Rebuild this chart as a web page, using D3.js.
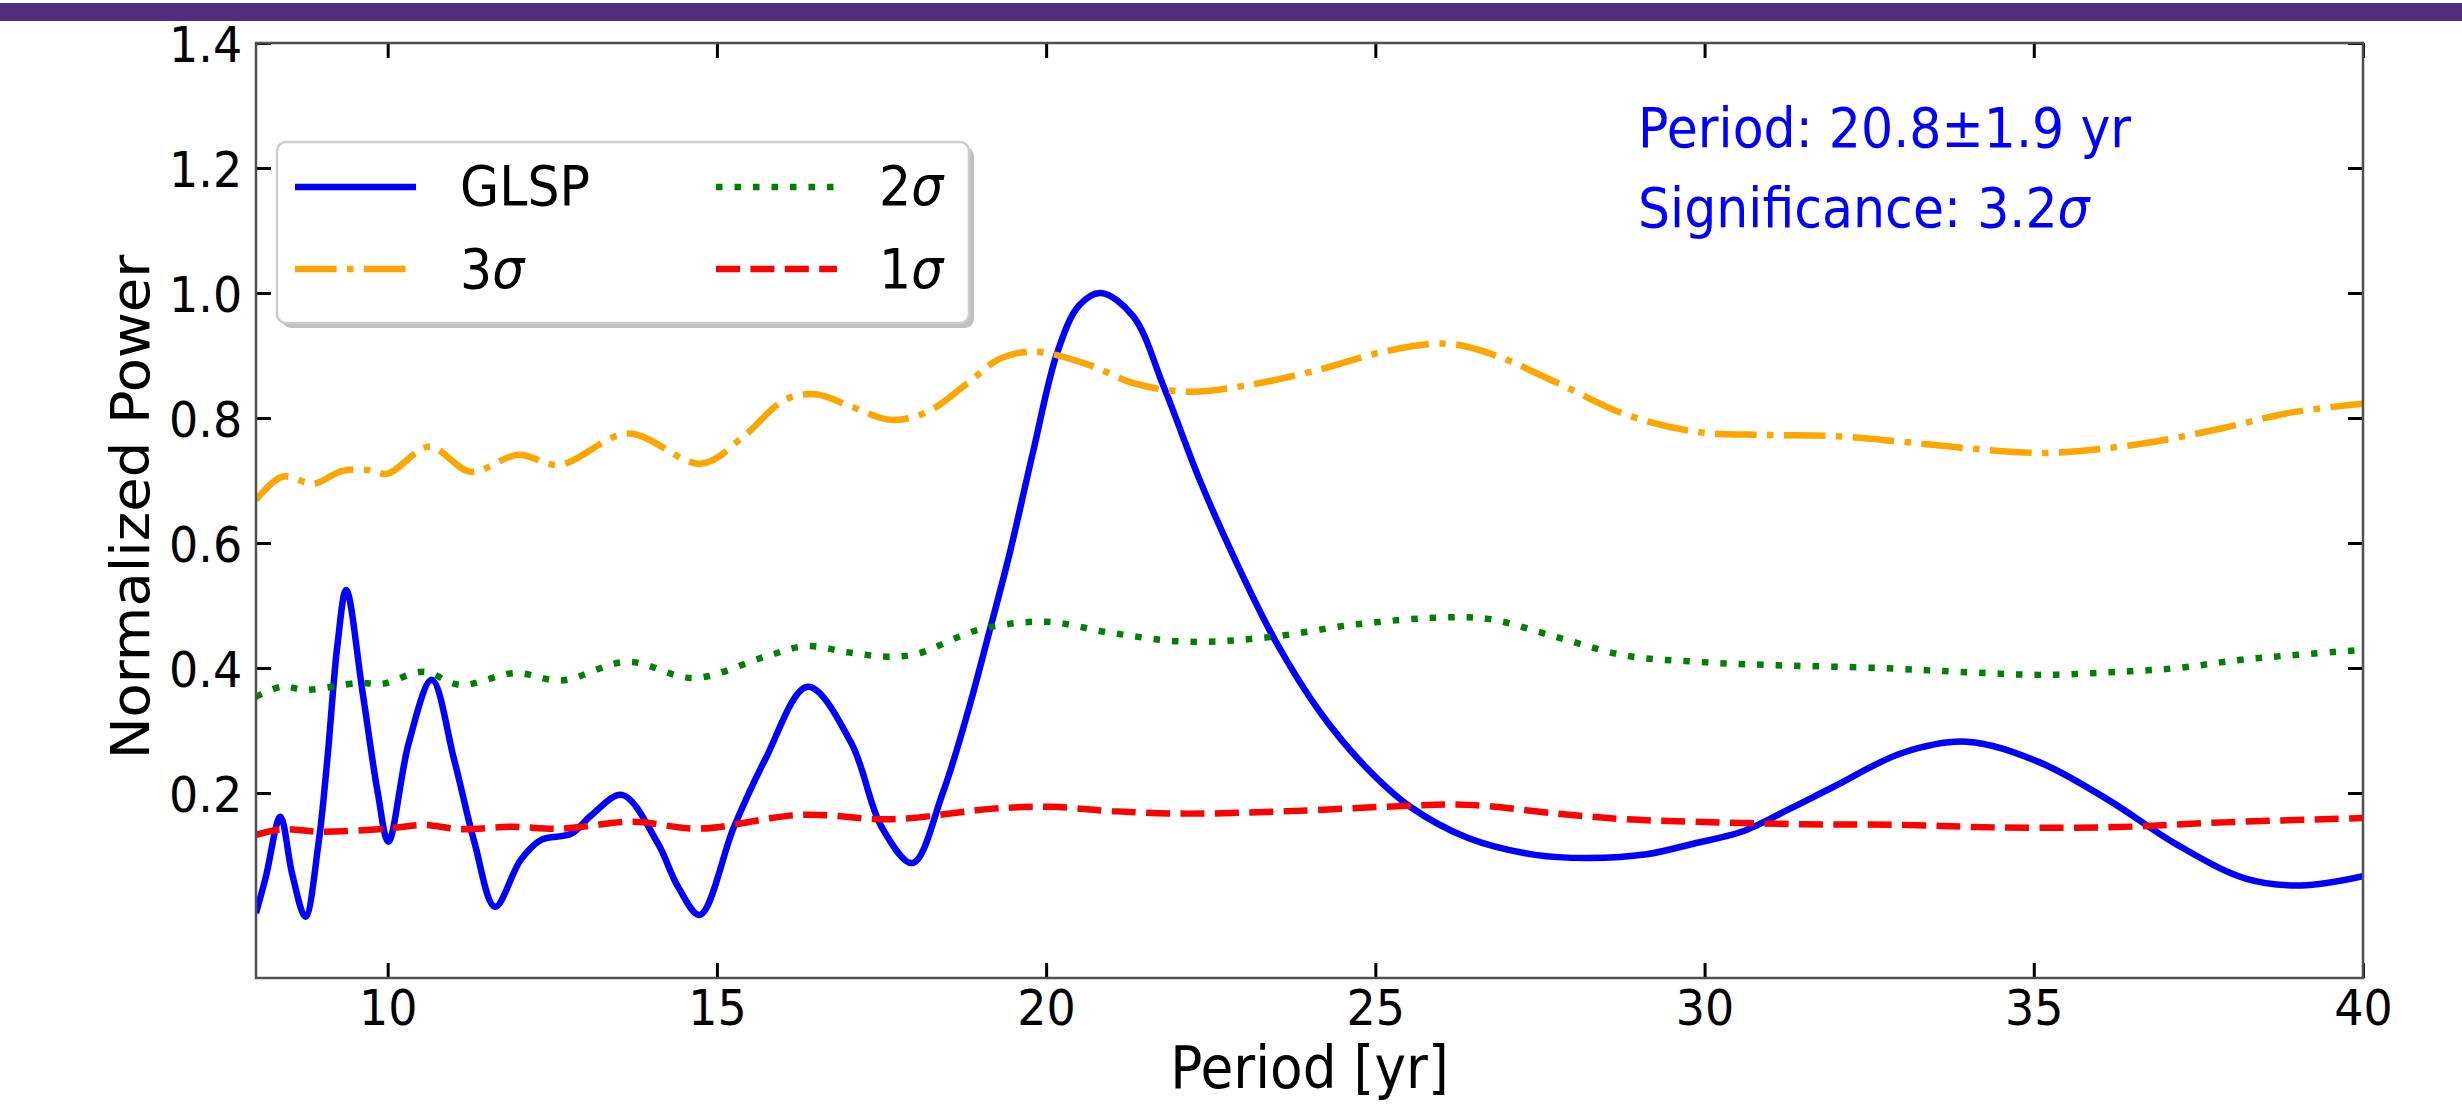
<!DOCTYPE html>
<html>
<head>
<meta charset="utf-8">
<script src="https://cdn.jsdelivr.net/npm/d3@7/dist/d3.min.js"></script>
<style>
  html, body { margin: 0; padding: 0; background: #ffffff; }
  svg { display: block; }
  text { font-family: "DejaVu Sans", sans-serif; }
</style>
</head>
<body>
<svg id="chart" width="2462" height="1113"></svg>
<script>
// ---------------- data ----------------
const glspPeriod = [8.0, 8.15, 8.37, 8.55, 8.75, 8.95, 9.08, 9.24, 9.37, 9.62, 9.85, 10.01, 10.32, 10.67, 11.01, 11.32, 11.63, 12.02, 12.33, 12.79, 13.1, 13.56, 14.1, 14.41, 14.74, 15.26, 15.73, 16.38, 17.04, 17.5, 17.97, 18.43, 18.82, 19.13, 19.45, 19.8, 20.17, 20.5, 20.83, 21.32, 21.79, 22.34, 22.88, 23.49, 24.17, 24.85, 25.53, 26.41, 27.43, 28.24, 29.12, 29.87, 30.56, 31.3, 31.96, 33.0, 33.98, 35.09, 36.13, 37.18, 38.22, 39.06, 40.0];
const glspPower  = [0.008, 0.066, 0.162, 0.07, 0.002, 0.12, 0.25, 0.44, 0.525, 0.36, 0.2, 0.122, 0.28, 0.381, 0.253, 0.12, 0.018, 0.093, 0.125, 0.135, 0.165, 0.197, 0.12, 0.05, 0.005, 0.146, 0.253, 0.370, 0.28, 0.146, 0.088, 0.2, 0.333, 0.455, 0.585, 0.745, 0.905, 0.98, 1.000, 0.963, 0.849, 0.699, 0.571, 0.442, 0.328, 0.242, 0.178, 0.128, 0.101, 0.096, 0.102, 0.120, 0.138, 0.175, 0.210, 0.264, 0.282, 0.249, 0.189, 0.117, 0.063, 0.052, 0.067];

const sig3Period = [8.0, 8.4, 8.88, 9.3, 9.68, 10.0, 10.63, 11.26, 11.98, 12.61, 13.65, 14.76, 15.4, 16.03, 16.5, 17.0, 17.65, 18.2, 18.8, 19.3, 19.84, 20.65, 21.32, 22.14, 23.09, 24.17, 25.12, 26.07, 26.75, 27.77, 28.79, 29.87, 30.91, 31.96, 33.0, 34.05, 35.09, 35.79, 36.83, 37.88, 38.92, 40.0];
const sig3Power  = [0.669, 0.706, 0.695, 0.715, 0.717, 0.711, 0.754, 0.714, 0.741, 0.725, 0.775, 0.727, 0.77, 0.829, 0.838, 0.82, 0.797, 0.81, 0.855, 0.895, 0.906, 0.885, 0.856, 0.842, 0.853, 0.878, 0.906, 0.919, 0.903, 0.856, 0.806, 0.778, 0.773, 0.771, 0.762, 0.751, 0.744, 0.748, 0.762, 0.784, 0.809, 0.823];

const sig2Period = [8.0, 8.39, 8.77, 9.55, 9.93, 10.55, 11.1, 11.94, 12.64, 13.64, 14.65, 15.73, 16.35, 17.0, 17.6, 18.05, 18.97, 19.98, 21.0, 22.14, 23.36, 24.72, 26.07, 26.75, 27.77, 28.79, 29.87, 30.91, 32.65, 34.05, 35.09, 36.13, 37.18, 38.22, 40.0];
const sig2Power  = [0.354, 0.370, 0.365, 0.376, 0.375, 0.394, 0.373, 0.392, 0.380, 0.410, 0.384, 0.418, 0.435, 0.425, 0.418, 0.423, 0.461, 0.474, 0.456, 0.442, 0.449, 0.470, 0.481, 0.478, 0.449, 0.420, 0.410, 0.405, 0.400, 0.393, 0.389, 0.393, 0.400, 0.414, 0.429];

const sig1Period = [8.0, 8.39, 9.0, 10.0, 10.55, 11.1, 11.86, 12.64, 13.72, 14.72, 16.27, 17.66, 19.2, 20.05, 21.0, 22.14, 23.7, 25.39, 26.41, 27.77, 28.79, 29.87, 31.5, 33.0, 34.4, 36.13, 37.88, 40.0];
const sig1Power  = [0.133, 0.142, 0.138, 0.143, 0.149, 0.142, 0.146, 0.143, 0.154, 0.143, 0.165, 0.158, 0.175, 0.178, 0.171, 0.167, 0.171, 0.179, 0.181, 0.167, 0.158, 0.154, 0.150, 0.149, 0.145, 0.145, 0.153, 0.160];

const xTicks = [10, 15, 20, 25, 30, 35, 40];
const yTicks = [0.2, 0.4, 0.6, 0.8, 1.0, 1.2, 1.4];
const xLabel = "Period [yr]";
const yLabel = "Normalized Power";
const annotPeriod = "Period: 20.8±1.9 yr";
const annotSigPrefix = "Significance: 3.2";

const series = [
  { name: "GLSP", xs: glspPeriod, ys: glspPower, color: "#0000ff", dash: null },
  { name: "3", xs: sig3Period, ys: sig3Power, color: "#ffa500", dash: "41.6,10.4,6.5,10.4", sigma: true },
  { name: "2", xs: sig2Period, ys: sig2Power, color: "#008000", dash: "6.5,12", sigma: true },
  { name: "1", xs: sig1Period, ys: sig1Power, color: "#ff0000", dash: "24,10.4", sigma: true }
];

// ---------------- layout ----------------
const L = 256, R = 2363, T = 43, B = 978;
const SX = 0.92; // horizontal squeeze of glyphs seen in the reference
const svg = d3.select("#chart");

// purple band at the top
svg.append("rect").attr("x", 0).attr("y", 3).attr("width", 2462).attr("height", 18).attr("fill", "#522d80");

const xScale = d3.scaleLinear().domain([8, 40]).range([L, R]);
const yScale = d3.scaleLinear().domain([-0.096, 1.4]).range([B, T]);

svg.append("defs").append("clipPath").attr("id", "plotclip")
  .append("rect").attr("x", L).attr("y", T).attr("width", R - L).attr("height", B - T);

// lines
const lineGen = d3.line().x(d => xScale(d[0])).y(d => yScale(d[1])).curve(d3.curveCatmullRom.alpha(0.5));
const plotG = svg.append("g").attr("clip-path", "url(#plotclip)");
series.forEach(s => {
  const pts = s.xs.map((v, i) => [v, s.ys[i]]);
  plotG.append("path").datum(pts)
    .attr("d", lineGen)
    .attr("fill", "none")
    .attr("stroke", s.color)
    .attr("stroke-width", 6.5)
    .attr("stroke-linecap", "butt")
    .attr("stroke-linejoin", "round")
    .attr("stroke-dasharray", s.dash);
});

// axes (ticks inward)
const tickFont = 50;
function styleAxis(g, showLabels) {
  g.select(".domain").remove();
  g.selectAll(".tick line").attr("stroke", "#000").attr("stroke-width", 3);
  g.selectAll(".tick text").attr("font-size", tickFont).attr("fill", "#000")
    .attr("font-family", "DejaVu Sans, sans-serif")
    .attr("transform", `scale(${SX},1)`);
  if (!showLabels) g.selectAll(".tick text").remove();
}
const axB = svg.append("g").attr("transform", `translate(0,${B})`)
  .call(d3.axisBottom(xScale).tickValues(xTicks).tickSize(-15).tickPadding(11).tickFormat(d3.format("d")));
styleAxis(axB, true);
const axT = svg.append("g").attr("transform", `translate(0,${T})`)
  .call(d3.axisTop(xScale).tickValues(xTicks).tickSize(-15));
styleAxis(axT, false);
const axL = svg.append("g").attr("transform", `translate(${L},0)`)
  .call(d3.axisLeft(yScale).tickValues(yTicks).tickSize(-15).tickPadding(15).tickFormat(d3.format(".1f")));
styleAxis(axL, true);
axL.selectAll(".tick text").attr("dy", "0.36em");
const axR = svg.append("g").attr("transform", `translate(${R},0)`)
  .call(d3.axisRight(yScale).tickValues(yTicks).tickSize(-15));
styleAxis(axR, false);

// frame (spines)
svg.append("rect").attr("x", L).attr("y", T).attr("width", R - L).attr("height", B - T)
  .attr("fill", "none").attr("stroke", "#505050").attr("stroke-width", 2.5);

// helper for squeezed text
function sText(parent, x, y, size, fill, anchor) {
  return parent.append("text")
    .attr("transform", `translate(${x},${y}) scale(${SX},1)`)
    .attr("font-size", size).attr("fill", fill).attr("text-anchor", anchor || "start");
}

// axis labels
sText(svg, (L + R) / 2, 1088, 58, "#000", "middle").text(xLabel);
svg.append("text").attr("transform", "translate(149,507) rotate(-90) scale(1,0.95)").attr("text-anchor", "middle")
  .attr("font-size", 56).attr("fill", "#000").text(yLabel);

// legend
const lg = svg.append("g");
lg.append("rect").attr("x", 282).attr("y", 147).attr("width", 692).attr("height", 181)
  .attr("rx", 9).attr("fill", "#7f7f7f").attr("opacity", 0.5);
lg.append("rect").attr("x", 277).attr("y", 142).attr("width", 692).attr("height", 181)
  .attr("rx", 9).attr("fill", "#ffffff").attr("stroke", "#cccccc").attr("stroke-width", 2.5);
const legendPos = [
  { s: series[0], lx: 295, ly: 187, tx: 460, ty: 205 },
  { s: series[1], lx: 295, ly: 269, tx: 460, ty: 288 },
  { s: series[2], lx: 716, ly: 187, tx: 879, ty: 205 },
  { s: series[3], lx: 716, ly: 269, tx: 879, ty: 288 }
];
legendPos.forEach(p => {
  lg.append("line").attr("x1", p.lx).attr("x2", p.lx + 121).attr("y1", p.ly).attr("y2", p.ly)
    .attr("stroke", p.s.color).attr("stroke-width", 6.5).attr("stroke-dasharray", p.s.dash);
  const t = sText(lg, p.tx, p.ty, 55, "#000");
  t.append("tspan").text(p.s.name);
  if (p.s.sigma) t.append("tspan").attr("font-style", "italic").text("σ");
});

// annotation
sText(svg, 1638, 147, 55, "#0000ff").text(annotPeriod);
const a2 = sText(svg, 1638, 227, 55, "#0000ff");
a2.append("tspan").text(annotSigPrefix);
a2.append("tspan").attr("font-style", "italic").text("σ");
</script>
</body>
</html>
